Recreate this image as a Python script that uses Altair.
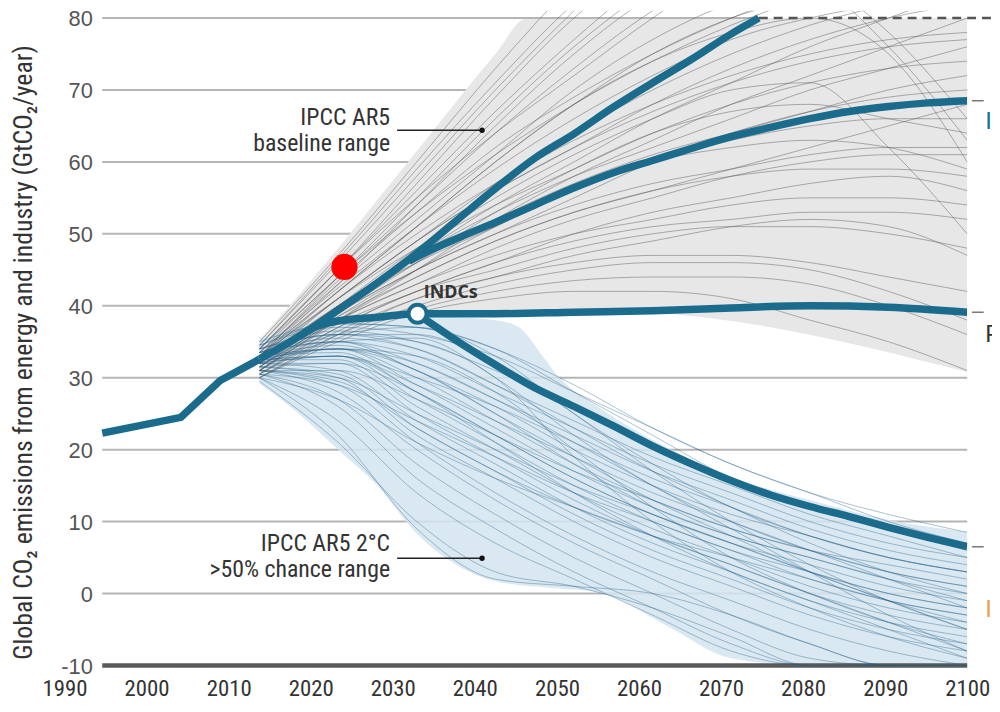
import altair as alt
import pandas as pd

# ---------------- data ----------------
decades = [2010, 2020, 2030, 2040, 2050, 2060, 2070, 2080, 2090, 2100]

gray_lines = [
    [35, 47, 60, 73, 85, 96, 106, 115, 122, 128],
    [34.5, 46, 58, 70, 81, 91, 99, 106, 110, 113],
    [34, 45, 56, 67, 77, 86, 93, 98, 101, 103],
    [34, 44, 54, 64, 73, 81, 87, 91, 93, 94],
    [33.5, 43, 52, 61, 70, 77, 82, 84, 85, 84],
    [33.5, 42.5, 51, 59, 66, 72, 77, 80, 82, 83],
    [33, 42, 50, 57, 63, 68, 72, 75, 77, 78],
    [33, 41, 49, 56, 62, 67, 71, 74, 76, 77],
    [33, 41, 48, 54, 59, 64, 68, 71, 73, 74],
    [32.5, 40, 47, 53, 58, 62, 66, 70, 73, 76],
    [32.5, 40, 46, 51, 56, 60, 63, 65, 66, 66],
    [32, 39.5, 46, 52, 57, 61, 64, 67, 70, 72],
    [32, 39, 45, 50, 54, 57, 59, 61, 62, 62],
    [32, 38.5, 44, 49, 53, 56, 58, 59, 59, 58],
    [31.5, 38, 43, 48, 52, 55, 58, 60, 61, 61],
    [31.5, 38, 43, 47, 50, 52, 54, 55, 55, 54],
    [31, 37.5, 42, 46, 49, 51, 52, 53, 53, 52],
    [31, 37, 42, 45, 48, 50, 51, 51, 50, 48],
    [30.5, 36.5, 41, 44, 46, 47, 47, 46, 44, 42],
    [30.5, 36, 40, 43, 45, 46, 46, 45, 42, 38],
    [30, 35.5, 39.5, 42, 43.5, 44, 44, 43, 40, 36],
    [30, 35, 39, 41, 42, 42, 41, 38, 35, 31],
    [33, 44, 55, 66, 76, 84, 88, 88, 86, 82],
    [34, 45, 57, 69, 80, 88, 90, 86, 78, 66],
    [33, 43, 54, 65, 75, 83, 87, 85, 76, 63],
    [32.5, 42, 51, 60, 68, 74, 78, 80, 75, 60],
    [32, 40, 48, 55, 61, 66, 70, 71, 62, 50],
    [31.5, 39, 46, 53, 59, 64, 67, 68, 66, 64],
    [31, 38, 45, 52, 58, 63, 68, 72, 76, 80],
    [32, 40, 47, 54, 60, 66, 71, 76, 80, 84],
    [33, 42, 51, 60, 68, 75, 80, 83, 86, 88],
    [31, 38, 44, 49, 53, 56, 59, 62, 65, 68],
    [30.5, 37, 42, 46, 50, 53, 55, 57, 58, 56],
    [30, 36, 41, 44, 47, 49, 51, 52, 51, 47],
    [31.5, 39, 45, 50, 55, 60, 64, 67, 69, 70],
    [32.5, 41, 49, 56, 62, 68, 73, 77, 80, 82],
    [34, 45, 55, 64, 72, 80, 87, 92, 96, 99],
    [33.5, 44, 53, 61, 68, 74, 79, 83, 86, 88],
    [34.5, 46.5, 59, 71, 82, 90, 95, 97, 96, 93],
    [33, 43.5, 53, 62, 69, 75, 80, 84, 87, 90],
    [32, 41, 49, 57, 64, 70, 75, 79, 82, 85],
    [31, 38.5, 45, 51, 56, 60, 62, 63, 62, 59],
]

blue_lines = [
    [35, 37.5, 37, 34, 29, 23, 18, 14, 11, 8.5],
    [34.5, 37, 36, 33, 28, 23, 18, 14, 10, 7],
    [34, 36.5, 35, 31, 26, 21, 16, 12, 9, 6],
    [34, 36, 34, 29, 24, 19, 15, 11, 8, 5],
    [33.5, 35, 32, 27, 22, 17, 13, 9, 6, 4],
    [33.5, 35, 31, 26, 20, 15, 11, 8, 5, 3],
    [33, 34, 30, 24, 18, 13, 9, 6, 3, 1],
    [33, 34, 29, 23, 17, 12, 8, 5, 2, 0],
    [33, 33.5, 28, 22, 16, 11, 7, 3, 0, -2],
    [32.5, 33, 27, 21, 15, 10, 6, 2, -1, -3],
    [32.5, 32.5, 26, 20, 14, 9, 5, 1, -2, -4],
    [32, 32, 25, 19, 13, 8, 4, 0, -3, -5],
    [32, 31, 24, 18, 12, 7, 3, -1, -4, -6],
    [31.5, 30.5, 23, 17, 11, 6, 2, -2, -5, -7],
    [31.5, 30, 22, 16, 10, 5, 1, -3, -6, -8],
    [31, 29, 21, 14, 8, 3, -1, -5, -8, -10],
    [31, 28, 20, 13, 7, 2, -3, -7, -10, -10],
    [30.5, 27, 18, 11, 5, 0, -5, -9, -10, -10],
    [30.5, 26, 16, 9, 3, -2, -7, -10, -10, -10],
    [30, 24, 14, 7, 2, -3, -8, -10, -10, -10],
    [29.5, 21, 10, 3, 1, -2, -6, -10, -10, -10],
    [30, 22, 9, 2, 1, 0, -3, -7, -10, -10],
    [33, 36, 37, 33, 25, 18, 12, 8, 5, 3],
    [32, 35, 35.5, 30, 22, 15, 10, 6, 3, 1],
    [32.5, 34, 33, 28, 20, 12, 5, 0, -4, -7],
    [34, 36, 36, 32, 25, 17, 10, 4, -1, -5],
    [31, 31, 27, 22, 17, 13, 9, 6, 4, 2],
    [32, 33, 30, 26, 21, 16, 12, 8, 5, 3],
    [33, 35, 33, 28, 23, 18, 14, 10, 7, 5],
    [31.5, 32, 28, 22, 16, 11, 7, 4, 1, -1],
    [32, 34, 31, 25, 18, 12, 8, 5, 2, -1],
    [30.5, 29, 24, 19, 14, 10, 6, 3, 0, -2],
    [33.5, 36, 35, 30, 19, 10, 3, -2, -6, -9],
    [32.5, 34, 32, 27, 21, 15, 9, 3, -3, -8],
    [31, 30, 25, 20, 15, 11, 7, 3, -1, -4],
    [34.5, 37.5, 37, 34, 28, 22, 16, 12, 9, 6.5],
    [30, 27, 21, 16, 12, 8, 4, 0, -4, -8],
    [32, 33, 29, 24, 19, 14, 10, 6, 2, -2],
    [33, 34.5, 31, 25, 19, 13, 8, 3, -1, -5],
    [32.5, 33, 28, 21, 14, 8, 3, -1, -5, -9],
    [31, 29.5, 23, 17, 12, 8, 5, 2, -1, -3],
    [33.5, 35.5, 34, 29, 23, 17, 12, 7, 3, 0],
]

# envelopes
gray_env_years = [2010, 2015, 2020, 2030, 2040, 2044, 2050, 2063, 2100]
gray_env_low = [29.3, 33.0, 36.0, 38.5, 39.3, 39.4, 39.5, 38.8, 30.8]
gray_env_high = [35.3, 41.5, 48.0, 61.5, 75.0, 80.0, 80.0, 80.0, 80.0]

blue_env_years = [2010, 2015, 2020, 2025, 2030, 2035, 2040, 2043, 2046, 2048, 2053,
                  2062, 2070, 2080, 2092, 2100]
blue_env_low = [29.2, 25.0, 20.0, 15.0, 8.3, 4.0, 1.7, 1.2, 0.9, 0.7, 0.2,
                -4.6, -9.0, -10, -10, -10]
blue_env_high = [35.6, 37.2, 38.2, 38.5, 38.6, 38.4, 38.0, 37.0, 33.0, 30.2, 26.0,
                 20.2, 16.2, 13.0, 9.8, 8.6]

# thick scenario lines
hist_years = [1990, 2000, 2005, 2009.4, 2010]
hist_vals = [22.3, 24.5, 29.6, 32.2, 32.6]

up_years = [2010, 2015, 2020, 2025, 2030, 2035, 2040, 2045, 2050, 2055, 2060, 2065, 2070, 2073.5]
up_vals = [32.6, 35.7, 39.4, 43.2, 47.3, 51.8, 56.3, 60.5, 63.9, 67.6, 71.0, 74.3, 77.8, 80.0]

low_years = [2029, 2030, 2035, 2040, 2045, 2050, 2055, 2060, 2065, 2070, 2075, 2080, 2085, 2090, 2095, 2100]
low_vals = [46.2, 46.8, 49.3, 51.6, 54.0, 56.4, 58.5, 60.2, 61.9, 63.5, 64.8, 66.0, 67.0, 67.7, 68.2, 68.5]

indc_years = [2015, 2017, 2020, 2025, 2030, 2040, 2050, 2060, 2070, 2080, 2090, 2100]
indc_vals = [35.7, 37.0, 37.9, 38.4, 38.9, 38.9, 39.1, 39.3, 39.7, 40.0, 39.8, 39.1]

c2_years = [2030, 2035, 2040, 2045, 2050, 2055, 2060, 2065, 2070, 2075, 2080, 2085, 2090, 2095, 2100]
c2_vals = [38.9, 35.2, 31.8, 28.6, 26.0, 23.3, 20.5, 18.0, 15.7, 13.7, 12.1, 10.7, 9.2, 7.8, 6.5]

indc_point = (2030.1, 38.9)
red_point = (2020.8, 45.4)

grid_values = [0, 10, 20, 30, 40, 50, 60, 70]
y_ticks = [-10, 0, 10, 20, 30, 40, 50, 60, 70, 80]
x_tick_labels = [1990, 2000, 2010, 2020, 2030, 2040, 2050, 2060, 2070, 2080, 2090, 2100]

ann_texts = ["IPCC AR5", "baseline range", "IPCC AR5 2°C", ">50% chance range"]
ann_y = [66.1, 62.5, 6.9, 3.3]
ann_x = [2026.6, 2026.6, 2026.6, 2026.6]
leader_y = [64.4, 4.9]
leader_x0 = [2027.5, 2027.5]
leader_x1 = [2038.3, 2038.3]

# ---------------- style ----------------
TEAL = "#1b6b8c"
NARROW = "Liberation Sans Narrow, Arial Narrow, Roboto Condensed, Roboto"
XDOM = [1983.06, 2100]
YDOM = [-10, 81]

xs = alt.Scale(domain=XDOM, nice=False, zero=False)
ys = alt.Scale(domain=YDOM, nice=False, zero=False)


def X(field="year"):
    return alt.X(f"{field}:Q", scale=xs, axis=None)


def Y(field="value"):
    return alt.Y(f"{field}:Q", scale=ys, axis=None)


def long_df(lines, name):
    rows = []
    for i, vals in enumerate(lines):
        for yr, v in zip(decades, vals):
            rows.append({"id": f"{name}{i}", "year": yr, "value": v})
    return pd.DataFrame(rows)


gray_df = long_df(gray_lines, "g")
blue_df = long_df(blue_lines, "b")

gray_env = pd.DataFrame({"year": gray_env_years, "low": gray_env_low, "high": gray_env_high})
blue_env = pd.DataFrame({"year": blue_env_years, "low": blue_env_low, "high": blue_env_high})

# grid (carries the y axis)
grid_df = pd.DataFrame({"value": grid_values, "x0": 1990, "x1": 2100})
grid = alt.Chart(grid_df).mark_rule(color="#b5b5b5", strokeWidth=2).encode(
    x=X("x0"), x2="x1:Q",
    y=alt.Y("value:Q", scale=ys,
            axis=alt.Axis(values=y_ticks, grid=False, domain=False, ticks=False,
                          offset=-55, labelPadding=10, labelFontSize=22, labelOffset=1,
                          labelExpr="'' + datum.value",
                          labelFont="Liberation Sans", labelColor="#555555",
                          title="Global CO₂ emissions from energy and industry (GtCO₂/year)",
                          titleFont=NARROW, titleFontSize=26, titleFontWeight="normal",
                          titleColor="#333333", titleX=-79, titleY=344,
                          titleBaseline="middle")),
)

bottom_df = pd.DataFrame({"value": [-10], "x0": [1990], "x1": [2100]})
bottom_rule = alt.Chart(bottom_df).mark_rule(color="#5a5a5a", strokeWidth=4.5).encode(
    x=X("x0"), x2="x1:Q", y=Y()
)
top_df = pd.DataFrame({"value": [80], "x0": [1990], "x1": [2073.5]})
top_rule = alt.Chart(top_df).mark_rule(color="#b5b5b5", strokeWidth=2).encode(
    x=X("x0"), x2="x1:Q", y=Y()
)

gray_area = alt.Chart(gray_env).mark_area(color="#e7e7e7", interpolate="monotone", clip=True).encode(
    x=X(), y=Y("low"), y2="high:Q"
)
blue_area = alt.Chart(blue_env).mark_area(color="#d2e4ef", opacity=0.85, interpolate="monotone", clip=True).encode(
    x=X(), y=Y("low"), y2="high:Q"
)

gray_thin = alt.Chart(gray_df).mark_line(color="#555555", strokeWidth=0.9, opacity=0.5,
                                         interpolate="monotone", clip=True).encode(
    x=X(), y=Y(), detail="id:N"
)
blue_thin = alt.Chart(blue_df).mark_line(color="#235f86", strokeWidth=0.9, opacity=0.42,
                                         interpolate="monotone", clip=True).encode(
    x=X(), y=Y(), detail="id:N"
)


def thick(years, vals, interp="monotone"):
    df = pd.DataFrame({"year": years, "value": vals})
    return alt.Chart(df).mark_line(color=TEAL, strokeWidth=7.5, interpolate=interp, clip=True).encode(
        x=X(), y=Y()
    )


hist_line = thick(hist_years, hist_vals, "linear")
up_line = thick(up_years, up_vals)
low_line = thick(low_years, low_vals)
indc_line = thick(indc_years, indc_vals)
c2_line = thick(c2_years, c2_vals)

# dashed continuation & right-edge leaders
dash_df = pd.DataFrame({"value": [80], "x0": [2073.5], "x1": [2104]})
dash80 = alt.Chart(dash_df).mark_rule(color="#555555", strokeWidth=2.5, strokeDash=[9, 6]).encode(
    x=X("x0"), x2="x1:Q", y=Y()
)
lead_right_df = pd.DataFrame({"value": [68.5, 39.1, 6.5], "x0": [2100.6] * 3, "x1": [2102.1] * 3})
lead_right = alt.Chart(lead_right_df).mark_rule(color="#777777", strokeWidth=1.5).encode(
    x=X("x0"), x2="x1:Q", y=Y()
)
edge_df = pd.DataFrame({"year": [2102.3, 2102.3, 2102.3], "value": [65.5, 35.9, -2.3],
                        "t": ["I", "P", "I"], "c": [TEAL, "#333333", "#e8a33d"]})
edge_text = alt.Chart(edge_df).mark_text(align="left", baseline="middle", fontSize=24,
                                         font="Liberation Sans").encode(
    x=X(), y=Y(), text="t:N", color=alt.Color("c:N", scale=None)
)

# INDC marker and red dot
indc_df = pd.DataFrame({"year": [indc_point[0]], "value": [indc_point[1]]})
indc_pt = alt.Chart(indc_df).mark_point(filled=True, fill="white", stroke=TEAL, strokeWidth=4,
                                        size=330, opacity=1).encode(x=X(), y=Y())
indc_lbl = alt.Chart(pd.DataFrame({"year": [2030.9], "value": [41.8], "t": ["INDCs"]})).mark_text(
    align="left", baseline="middle", fontSize=18, fontWeight="bold", font="Open Sans", color="#333333"
).encode(x=X(), y=Y(), text="t:N")

red_df = pd.DataFrame({"year": [red_point[0]], "value": [red_point[1]]})
red_pt = alt.Chart(red_df).mark_point(filled=True, color="#ff0000", size=700, opacity=1).encode(x=X(), y=Y())

# annotations
ann_df = pd.DataFrame({"year": ann_x, "value": ann_y, "t": ann_texts})
ann = alt.Chart(ann_df).mark_text(align="right", baseline="middle", fontSize=24, font=NARROW,
                                  color="#333333").encode(x=X(), y=Y(), text="t:N")
lead_df = pd.DataFrame({"value": leader_y, "x0": leader_x0, "x1": leader_x1})
leads = alt.Chart(lead_df).mark_rule(color="#222222", strokeWidth=1.5).encode(
    x=X("x0"), x2="x1:Q", y=Y()
)
dots = alt.Chart(lead_df).mark_point(filled=True, color="#111111", size=30, opacity=1).encode(
    x=X("x1"), y=Y()
)

# x-axis labels (their own scale, as in the source figure)
xlab_df = pd.DataFrame({"year": x_tick_labels, "value": [-10] * len(x_tick_labels)})
xlabels = alt.Chart(xlab_df).mark_point(opacity=0).encode(
    x=alt.X("year:Q", scale=alt.Scale(domain=[1987.945, 2100], nice=False, zero=False),
            axis=alt.Axis(values=x_tick_labels, format="d", grid=False, domain=False, ticks=False,
                          labelPadding=12, labelFontSize=23, labelFont=NARROW, labelColor="#333333",
                          title=None, labelFlush=False)),
    y=Y(),
)

chart = alt.layer(
    grid, gray_area, blue_area, top_rule, bottom_rule, gray_thin, blue_thin,
    hist_line, indc_line, c2_line, low_line, up_line,
    dash80, lead_right, edge_text, indc_pt, indc_lbl, red_pt, ann, leads, dots, xlabels,
).resolve_scale(x="independent").resolve_axis(y="independent").properties(
    width=927, height=660,
    autosize=alt.AutoSizeParams(type="none"),
    padding={"left": 40, "top": 0, "right": 25, "bottom": 36},
    background="white",
).configure_view(stroke=None)

chart.save("out.html", embed_options={"renderer": "svg", "actions": False})
